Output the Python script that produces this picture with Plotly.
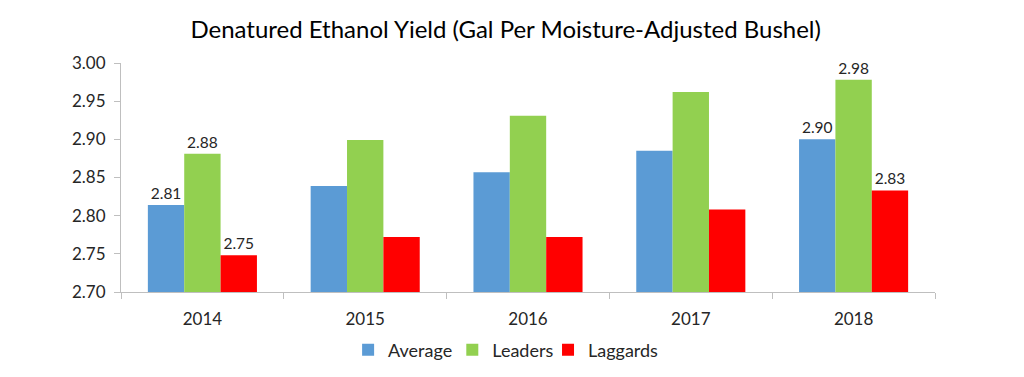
import plotly.graph_objects as go

years = ["2014", "2015", "2016", "2017", "2018"]
average = [2.814, 2.839, 2.857, 2.885, 2.900]
leaders = [2.881, 2.899, 2.931, 2.962, 2.978]
laggards = [2.748, 2.772, 2.772, 2.808, 2.833]
label_years = ["2014", "2018"]

series = [
    ("Average", average, "#5B9BD5", "legend", 0.279),
    ("Leaders", leaders, "#92D050", "legend2", 0.407),
    ("Laggards", laggards, "#FF0000", "legend3", 0.5246),
]

FONT = "Lato, Carlito, Calibri, sans-serif"

fig = go.Figure()
legends = {}
for name, vals, color, leg, lx in series:
    texts = [f"{v:.2f}" if y in label_years else "" for y, v in zip(years, vals)]
    fig.add_trace(go.Bar(
        x=years, y=vals, name=name, legend=leg, showlegend=True,
        marker=dict(color=color, line=dict(width=0)),
        text=texts, textposition="outside", cliponaxis=False,
        textfont=dict(family=FONT, size=15.5, color="#262626"),
    ))
    legends[leg] = dict(orientation="h", x=lx, xanchor="left", visible=True,
                        y=-0.253, yanchor="middle", bgcolor="rgba(0,0,0,0)",
                        font=dict(family=FONT, size=18, color="#262626"))

fig.update_layout(
    width=1024, height=377,
    showlegend=True,
    margin=dict(l=113, r=97, t=55, b=93, autoexpand=False),
    paper_bgcolor="white", plot_bgcolor="white",
    barmode="group", bargap=0.33, bargroupgap=0,
    uniformtext=dict(minsize=15, mode="show"),
    title=dict(text="Denatured Ethanol Yield (Gal Per Moisture-Adjusted Bushel)",
               x=0.486, xref="container", xanchor="center", y=0.942, yanchor="middle",
               font=dict(family=FONT, size=24, color="#000000")),
    font=dict(family=FONT, size=15, color="#262626"),
    **legends,
)
fig.update_xaxes(showline=True, linecolor="#BFBFBF", linewidth=1,
                 ticks="outside", tickson="boundaries", ticklen=6, tickcolor="#BFBFBF",
                 ticklabelstandoff=12,
                 showgrid=False, tickfont=dict(family=FONT, size=17, color="#262626"))
fig.update_yaxes(range=[2.70, 3.00], dtick=0.05, tickformat=".2f",
                 showline=True, linecolor="#BFBFBF", linewidth=1,
                 ticks="outside", ticklen=6, tickcolor="#BFBFBF",
                 ticklabelstandoff=5,
                 showgrid=False, zeroline=False,
                 tickfont=dict(family=FONT, size=17, color="#262626"))

fig.write_html("out.html")
